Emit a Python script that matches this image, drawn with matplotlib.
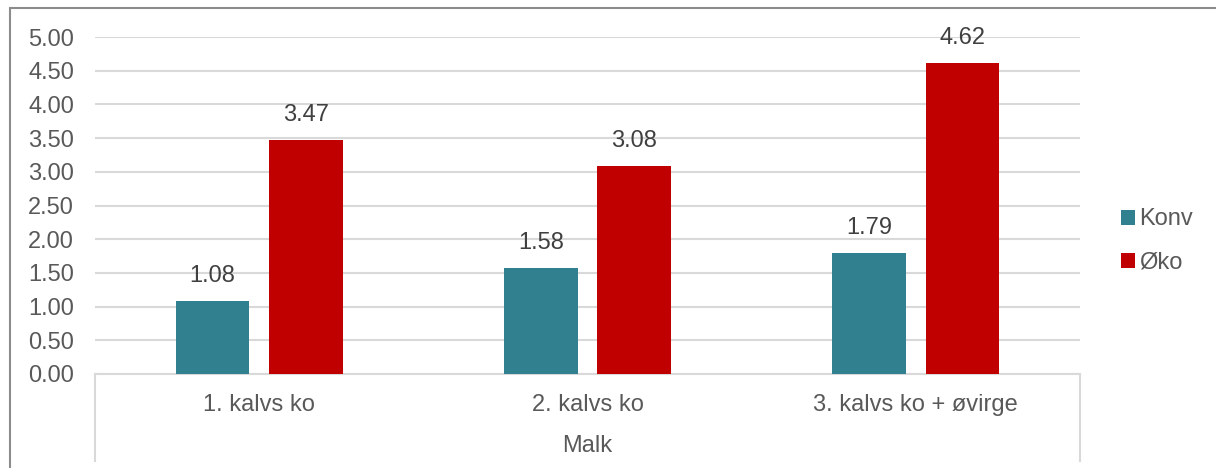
import matplotlib.pyplot as plt
import numpy as np
from matplotlib.patches import Rectangle
from matplotlib.lines import Line2D

# Data
categories = ['1. kalvs ko', '2. kalvs ko', '3. kalvs ko + øvirge']
group_label = 'Malk'
konv = [1.08, 1.58, 1.79]
oko = [3.47, 3.08, 4.62]
series_names = ['Konv', 'Øko']
yticks = [0.0, 0.5, 1.0, 1.5, 2.0, 2.5, 3.0, 3.5, 4.0, 4.5, 5.0]

plt.rcParams['font.family'] = ['Liberation Sans', 'DejaVu Sans']
text_col = '#595959'
grid_col = '#d9d9d9'
teal = '#31808f'
red = '#c00000'
fs = 17

fig = plt.figure(figsize=(12.16, 4.68), dpi=100)
ax = fig.add_axes([95 / 1216, 1 - 374 / 468, 985 / 1216, 337 / 468])

x = np.arange(len(categories))
w = 0.225
off = 0.142
b1 = ax.bar(x - off, konv, w, color=teal, label=series_names[0], zorder=3)
b2 = ax.bar(x + off, oko, w, color=red, label=series_names[1], zorder=3)

# value labels above bars
for bars in (b1, b2):
    for rect in bars:
        h = rect.get_height()
        ax.annotate(f'{h:.2f}', (rect.get_x() + rect.get_width() / 2, h),
                    xytext=(0, 18), textcoords='offset points',
                    ha='center', va='center', fontsize=fs, color='#404040')

ax.set_xlim(-0.5, len(categories) - 0.5)
ax.set_ylim(0, 5.0)
ax.set_yticks(yticks)
ax.set_yticklabels([f'{t:.2f}' for t in yticks])
ax.yaxis.grid(True, color=grid_col, linewidth=1.5, zorder=0)
ax.tick_params(axis='y', length=0, labelsize=fs, labelcolor=text_col, pad=15)
ax.set_xticks([])
for s in ['top', 'right', 'left']:
    ax.spines[s].set_visible(False)
ax.spines['bottom'].set_color(grid_col)
ax.spines['bottom'].set_linewidth(1.5)

# multi-level category axis
trans = ax.get_xaxis_transform()
for i, c in enumerate(categories):
    ax.annotate(c, (i, 0), xycoords=trans, xytext=(0, -22), textcoords='offset points',
                ha='center', va='center', fontsize=fs, color=text_col)
ax.annotate(group_label, (np.mean(x), 0), xycoords=trans, xytext=(0, -51.5),
            textcoords='offset points', ha='center', va='center', fontsize=fs, color=text_col)
for xv in (95, 1080):
    fig.add_artist(Line2D([xv / 1216, xv / 1216], [1 - 374 / 468, 1 - 461 / 468],
                          color=grid_col, linewidth=1.5))

ax.legend(loc='center left', bbox_to_anchor=(1100 / 1216, 1 - 241 / 468),
          bbox_transform=fig.transFigure, frameon=False, fontsize=fs,
          handlelength=0.6, handleheight=0.6, handletextpad=0.15,
          labelspacing=0.9, labelcolor=text_col)

# outer chart border (right and bottom edges cropped in the reference)
fig.add_artist(Rectangle((10 / 1216, -0.1), 1.2, 1 - 8 / 468 + 0.1,
                         transform=fig.transFigure, fill=False,
                         edgecolor='#8c8c8c', linewidth=1.5))

fig.savefig('out.png', dpi=100)
